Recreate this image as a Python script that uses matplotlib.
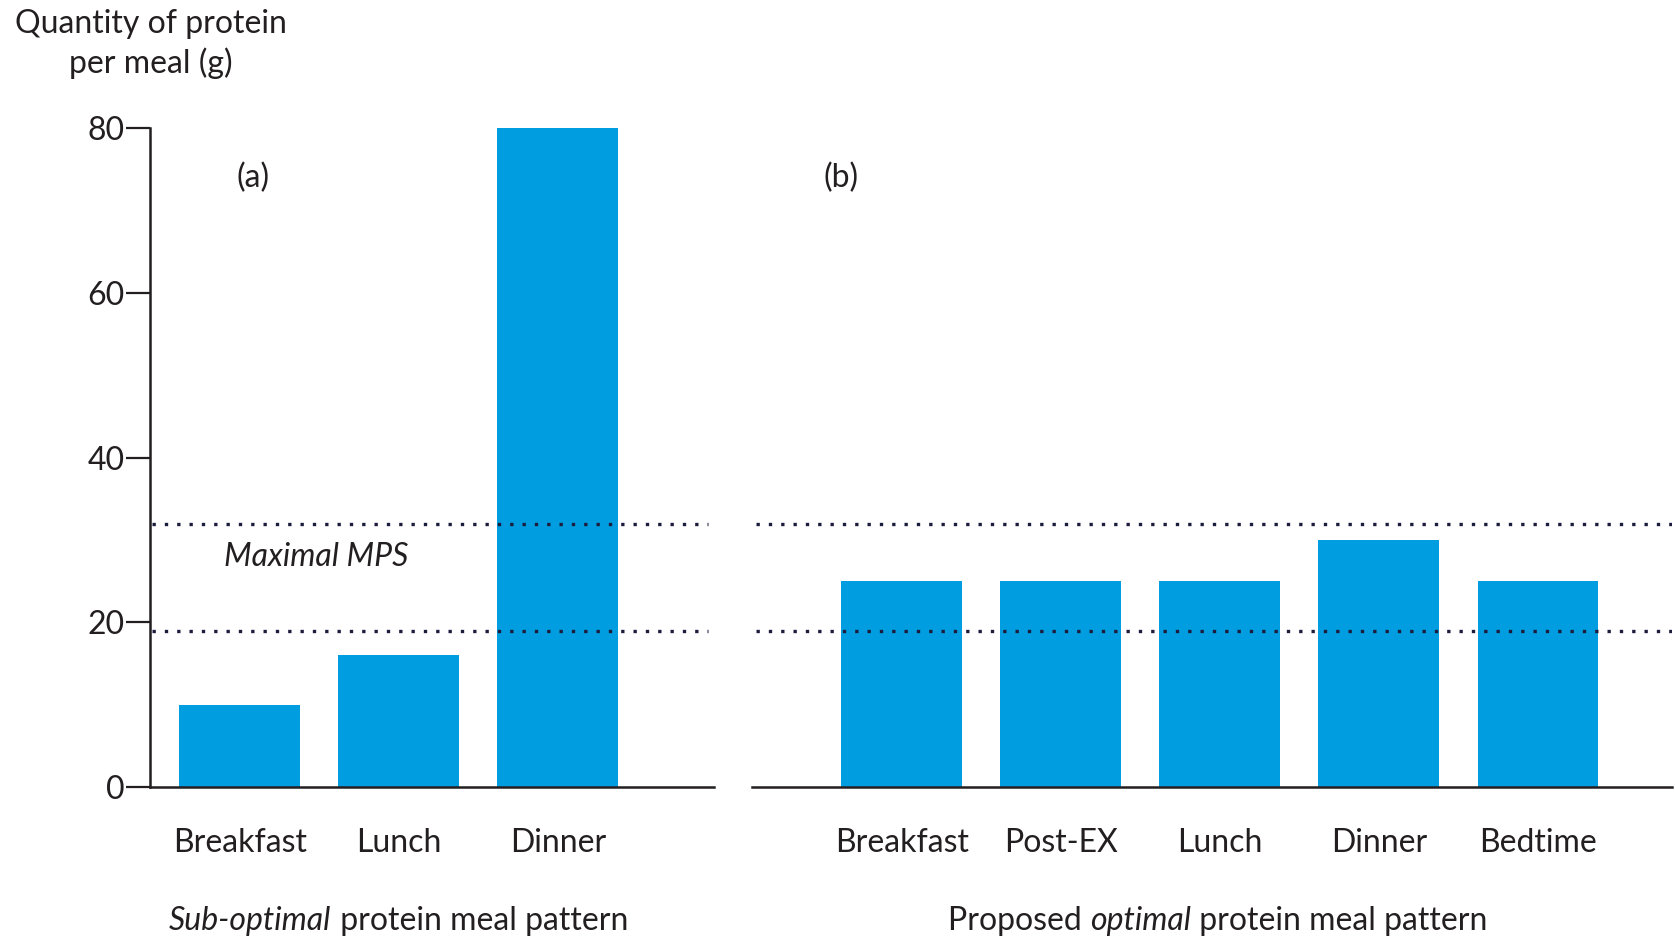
import matplotlib
matplotlib.use('Agg')
import matplotlib.pyplot as plt

plt.rcParams['font.family'] = ['Lato', 'DejaVu Sans']

meals_a = ['Breakfast', 'Lunch', 'Dinner']
protein_a = [10, 16, 80]
meals_b = ['Breakfast', 'Post-EX', 'Lunch', 'Dinner', 'Bedtime']
protein_b = [25, 25, 25, 30, 25]
mps_low, mps_high = 19, 32
yticks = [0, 20, 40, 60, 80]

blue = '#009ee0'
ink = '#231f20'
dots = '#1c1c3c'
fs = 23

fig = plt.figure(figsize=(16.75, 9.4), dpi=100)
ax1 = fig.add_axes([0.0893, 0.1625, 0.3367, 0.7011])
ax2 = fig.add_axes([0.449, 0.1625, 0.549, 0.7011])

for ax, meals, vals, xmax in [(ax1, meals_a, protein_a, 0.99),
                              (ax2, meals_b, protein_b, 1.0)]:
    ax.bar(range(len(meals)), vals, width=0.76, color=blue, zorder=2)
    ax.set_ylim(0, 80)
    ax.set_xticks(range(len(meals)))
    ax.set_xticklabels(meals, fontsize=fs, color=ink)
    ax.tick_params(axis='x', length=0, pad=29)
    for s in ['top', 'right']:
        ax.spines[s].set_visible(False)
    ax.spines['bottom'].set_linewidth(1.8)
    ax.spines['bottom'].set_color(ink)
    for level in (mps_low, mps_high):
        ax.axhline(level, xmin=0.004, xmax=xmax, color=dots, lw=2.4,
                   ls=(0, (1, 2.7)), zorder=3)

ax1.set_xlim(-0.568, 2.98)
ax2.set_xlim(-0.94, 4.84)

ax1.set_yticks(yticks)
ax1.tick_params(axis='y', length=17, width=1.6, color=ink, labelsize=fs,
                labelcolor=ink, pad=1)
ax1.spines['left'].set_linewidth(1.8)
ax1.spines['left'].set_color(ink)
ax2.spines['left'].set_visible(False)
ax2.set_yticks([])

ax1.text(0.08, 74, '(a)', fontsize=fs, color=ink, ha='center', va='center')
ax2.text(-0.38, 74, '(b)', fontsize=fs, color=ink, ha='center', va='center')
ax1.text(0.48, 28, 'Maximal MPS', fontsize=fs, style='italic', color=ink,
         ha='center', va='center')

fig.text(0.09, 0.99, 'Quantity of protein\nper meal (g)', fontsize=fs,
         color=ink, ha='center', va='top', linespacing=1.3)


def rich_text(x, y, parts):
    renderer = fig.canvas.get_renderer()
    items = []
    for s, st in parts:
        t = fig.text(0, y, s, fontsize=fs, style=st, color=ink,
                     ha='left', va='center')
        items.append(t)
    widths = [t.get_window_extent(renderer).width for t in items]
    figw = fig.bbox.width
    start = x * figw - sum(widths) / 2
    for t, w in zip(items, widths):
        t.set_x(start / figw)
        start += w


rich_text(0.238, 0.02, [('Sub-optimal', 'italic'), (' protein meal pattern', 'normal')])
rich_text(0.727, 0.02, [('Proposed ', 'normal'), ('optimal', 'italic'),
                        (' protein meal pattern', 'normal')])

fig.savefig('out.png', dpi=100)
